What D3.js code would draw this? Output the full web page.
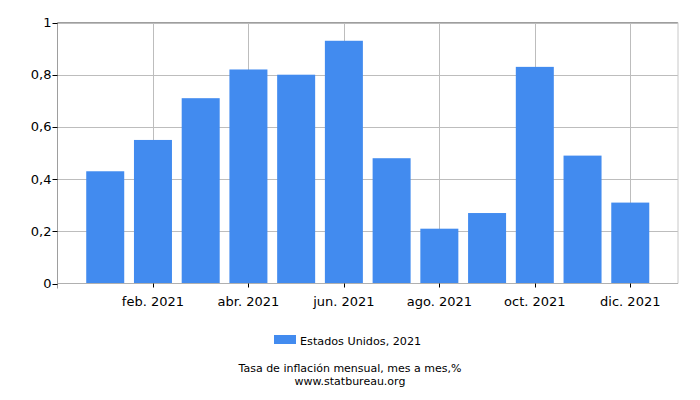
<!DOCTYPE html>
<html>
<head>
<meta charset="utf-8">
<script src="https://cdn.jsdelivr.net/npm/d3@7"></script>
<style>
  body { margin: 0; background: #fff; }
  text { font-family: "DejaVu Sans", sans-serif; fill: #000; }
</style>
</head>
<body>
<div id="chart"></div>
<script>
// monthly inflation, month over month, %
var months = ["ene. 2021", "feb. 2021", "mar. 2021", "abr. 2021", "may. 2021", "jun. 2021",
              "jul. 2021", "ago. 2021", "sep. 2021", "oct. 2021", "nov. 2021", "dic. 2021"];
var values = [0.43, 0.55, 0.71, 0.82, 0.80, 0.93, 0.48, 0.21, 0.27, 0.83, 0.49, 0.31];
var yTicks = [0, 0.2, 0.4, 0.6, 0.8, 1];
var seriesName = "Estados Unidos, 2021";
var caption = ["Tasa de inflación mensual, mes a mes,%", "www.statbureau.org"];

var width = 700, height = 400;
var margin = {top: 22.5, right: 22, bottom: 116.5, left: 57.5};
var barColor = "#428bef";

var svg = d3.select("#chart").append("svg")
  .attr("width", width)
  .attr("height", height);

var x = d3.scaleLinear().domain([0, 13]).range([margin.left, width - margin.right]);
var y = d3.scaleLinear().domain([0, 1]).range([height - margin.bottom, margin.top]);

var fmt = function(d) { return d === 0 ? "0" : d === 1 ? "1" : d3.format(".1f")(d).replace(".", ","); };

// grid
var grid = svg.append("g");
grid.selectAll("line.h").data(yTicks.slice(1))
  .enter().append("line")
  .attr("x1", x(0)).attr("x2", x(13))
  .attr("y1", function(d) { return Math.round(y(d)) + 0.5; })
  .attr("y2", function(d) { return Math.round(y(d)) + 0.5; })
  .style("stroke", "#bdbdbd");

// vertical lines at every other month (feb, abr, ...)
var labelIdx = d3.range(1, 12, 2);
grid.selectAll("line.v").data(labelIdx)
  .enter().append("line")
  .attr("x1", function(i) { return Math.round(x(i + 1)) + 0.5; })
  .attr("x2", function(i) { return Math.round(x(i + 1)) + 0.5; })
  .attr("y1", y(1)).attr("y2", y(0))
  .style("stroke", "#bdbdbd");

// bars
var barW = 38;
svg.append("g").selectAll("rect")
  .data(values)
  .enter().append("rect")
  .attr("x", function(d, i) { return x(i + 1) - barW / 2; })
  .attr("y", function(d) { return y(d); })
  .attr("width", barW)
  .attr("height", function(d) { return y(0) - y(d); })
  .attr("fill", barColor);

// frame
svg.append("line").attr("x1", x(0)).attr("x2", x(13)).attr("y1", y(1)).attr("y2", y(1)).style("stroke", "#9e9e9e");
svg.append("line").attr("x1", x(13)).attr("x2", x(13)).attr("y1", y(1)).attr("y2", y(0)).style("stroke", "#c8c8c8");
svg.append("line").attr("x1", x(0)).attr("x2", x(13)).attr("y1", y(0)).attr("y2", y(0)).style("stroke", "#b0b0b0");
svg.append("line").attr("x1", x(0)).attr("x2", x(0)).attr("y1", y(1)).attr("y2", y(0) + 5).style("stroke", "#9e9e9e");

// y axis ticks
var yAxis = svg.append("g");
yAxis.selectAll("line").data(yTicks)
  .enter().append("line")
  .attr("x1", x(0) - 5).attr("x2", x(0))
  .attr("y1", function(d) { return Math.round(y(d)) + 0.5; })
  .attr("y2", function(d) { return Math.round(y(d)) + 0.5; })
  .style("stroke", "#000");
yAxis.selectAll("text").data(yTicks)
  .enter().append("text")
  .attr("x", x(0) - 6)
  .attr("y", function(d) { return y(d) + 4.5; })
  .attr("text-anchor", "end")
  .style("font-size", "13px")
  .text(fmt);

// x axis ticks + labels
var xAxis = svg.append("g");
xAxis.selectAll("line").data(labelIdx)
  .enter().append("line")
  .attr("x1", function(i) { return Math.round(x(i + 1)) + 0.5; })
  .attr("x2", function(i) { return Math.round(x(i + 1)) + 0.5; })
  .attr("y1", y(0)).attr("y2", y(0) + 4)
  .style("stroke", "#000");
xAxis.selectAll("text").data(labelIdx)
  .enter().append("text")
  .attr("x", function(i) { return x(i + 1); })
  .attr("y", y(0) + 22)
  .attr("text-anchor", "middle")
  .style("font-size", "13px")
  .text(function(i) { return months[i]; });

// legend
var legend = svg.append("g");
legend.append("rect").attr("x", 274).attr("y", 335).attr("width", 22).attr("height", 9).attr("fill", barColor);
legend.append("text").attr("x", 300).attr("y", 345).style("font-size", "11.2px").text(seriesName);

svg.selectAll("text.cap").data(caption)
  .enter().append("text")
  .attr("class", "cap")
  .attr("x", 350)
  .attr("y", function(d, i) { return 371.5 + i * 13; })
  .attr("text-anchor", "middle")
  .style("font-size", "11px")
  .text(function(d) { return d; });
</script>
</body>
</html>
